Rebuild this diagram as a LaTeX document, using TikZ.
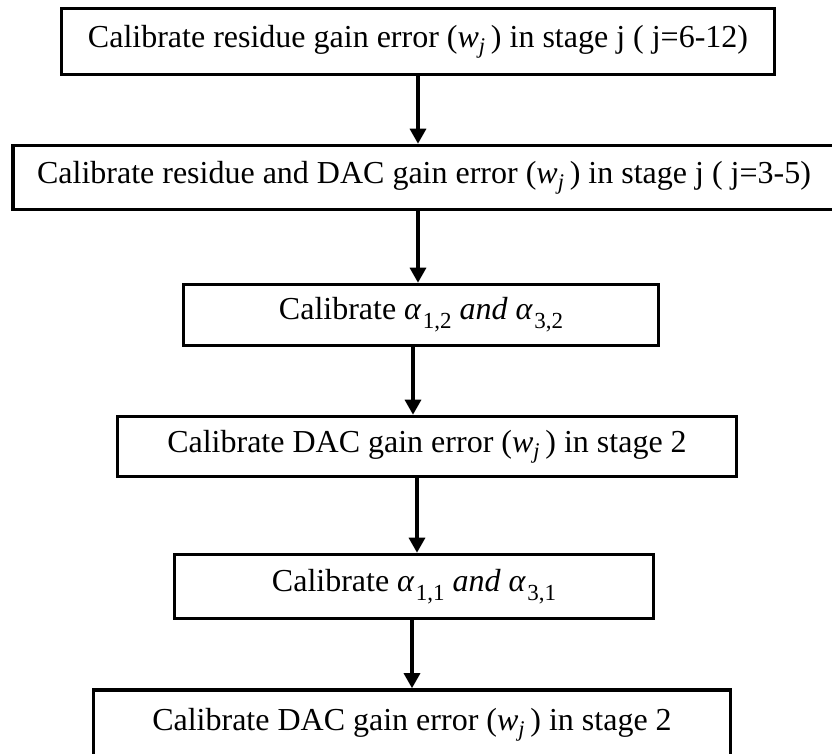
\documentclass[tikz,border=0pt]{standalone}
\usepackage{fontspec}
\setmainfont{Liberation Serif}
\usetikzlibrary{arrows.meta}

\newcommand{\wsub}{(\textit{w}\textsubscript{\textit{j}}\,)}
\newcommand{\alsub}[1]{\textit{α}\kern0.04em\raisebox{-0.28em}{\fontsize{23}{25}\selectfont #1}}

\tikzset{
  stepbox/.style={draw=black, line width=3.6pt, fill=white, rectangle,
    inner sep=0pt, align=center,
    font=\fontsize{32}{38}\selectfont},
  flow/.style={line width=3.2pt, -{Triangle[length=15pt,width=16pt]}},
}

\begin{document}
\begin{tikzpicture}[x=1pt, y=-1pt]
  \useasboundingbox (0,0) rectangle (832,753);
  \clip (0,0) rectangle (832,753);

  % process steps, top to bottom
  \node[stepbox, minimum width=713pt, minimum height=66pt] (s1) at (418,41.5)
    {Calibrate residue gain error \wsub{} in stage j ( j=6-12)};
  \node[stepbox, minimum width=860pt, minimum height=64pt] (s2) at (443,177.5)
    {\hspace*{-38pt}Calibrate residue and DAC gain error \wsub{} in stage j ( j=3-5)};
  \node[stepbox, minimum width=475pt, minimum height=61pt] (s3) at (421,315)
    {Calibrate \alsub{1,2} \textit{and} \alsub{3,2}};
  \node[stepbox, minimum width=619pt, minimum height=60pt] (s4) at (427,446.5)
    {Calibrate DAC gain error \wsub{} in stage 2};
  \node[stepbox, minimum width=479pt, minimum height=64pt] (s5) at (414,586.5)
    {Calibrate \alsub{1,1} \textit{and} \alsub{3,1}};
  \node[stepbox, minimum width=637pt, minimum height=70pt] (s6) at (412,725)
    {\raisebox{4pt}{Calibrate DAC gain error \wsub{} in stage 2}};

  % x positions of the connecting arrows
  \coordinate (x1) at (418,0);
  \coordinate (x2) at (418,0);
  \coordinate (x3) at (413,0);
  \coordinate (x4) at (417,0);
  \coordinate (x5) at (412,0);

  \draw[flow] (s1.south -| x1) -- (s2.north -| x1);
  \draw[flow] (s2.south -| x2) -- (s3.north -| x2);
  \draw[flow] (s3.south -| x3) -- (s4.north -| x3);
  \draw[flow] (s4.south -| x4) -- (s5.north -| x4);
  \draw[flow] (s5.south -| x5) -- (s6.north -| x5);
\end{tikzpicture}
\end{document}
